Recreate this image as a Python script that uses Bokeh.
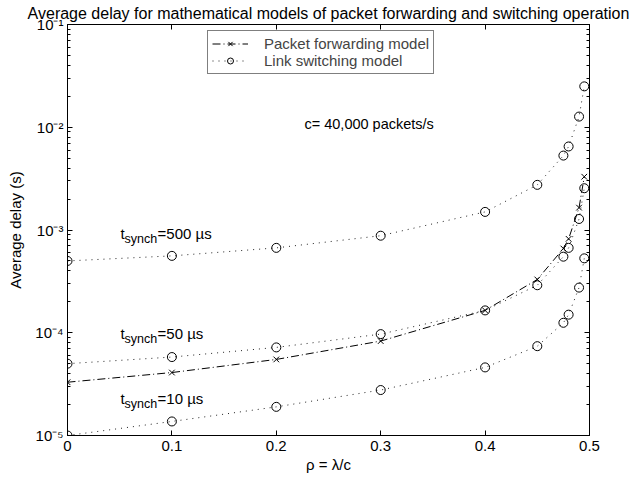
from bokeh.plotting import figure
from bokeh.models import (Label, LinearAxis, LogAxis, FixedTicker, CustomJSTickFormatter,
                          Range1d, Legend, LegendItem)
from bokeh.embed import file_html
from bokeh.resources import INLINE

# ---------------- data ----------------
rho = [0.0, 0.1, 0.2, 0.3, 0.4, 0.45, 0.475, 0.48, 0.49, 0.495]
delay_packet_forwarding = [3.3e-5, 4.1e-5, 5.5e-5, 8.3e-5, 1.65e-4, 3.3e-4, 6.6e-4, 8.2e-4, 1.65e-3, 3.3e-3]
delay_link_500us = [5.0e-4, 5.6e-4, 6.7e-4, 8.8e-4, 1.5e-3, 2.75e-3, 5.3e-3, 6.5e-3, 1.27e-2, 2.5e-2]
delay_link_50us = [5.0e-5, 5.8e-5, 7.2e-5, 9.7e-5, 1.65e-4, 2.9e-4, 5.5e-4, 6.7e-4, 1.28e-3, 2.55e-3]
delay_link_10us = [1.0e-5, 1.37e-5, 1.9e-5, 2.77e-5, 4.6e-5, 7.4e-5, 1.25e-4, 1.5e-4, 2.75e-4, 5.3e-4]

x_ticks = [0.0, 0.1, 0.2, 0.3, 0.4, 0.5]
x_tick_labels = ["0", "0.1", "0.2", "0.3", "0.4", "0.5"]
y_ticks = [1e-5, 1e-4, 1e-3, 1e-2, 1e-1]
y_tick_labels = ["10\u207b\u2075", "10\u207b\u2074", "10\u207b\u00b3", "10\u207b\u00b2", "10\u207b\u00b9"]
y_minor_mantissas = [2, 3, 4, 5, 6, 7, 8, 9]

title_text = "Average delay for mathematical models of packet forwarding and switching operation"
x_label_text = "\u03c1 = \u03bb/c"
y_label_text = "Average delay (s)"
legend_labels = ["Packet forwarding model", "Link switching model"]
annotation_c = "c= 40,000 packets/s"
synch_texts = ["=500 \u00b5s", "=50 \u00b5s", "=10 \u00b5s"]
synch_baselines = [7.8e-4, 8.24e-5, 1.92e-5]

FONT = "Liberation Sans"
FS = "15px"

p = figure(width=635, height=483,
           x_range=Range1d(0, 0.5), y_range=Range1d(1e-5, 1e-1),
           y_axis_type="log", output_backend="svg", toolbar_location=None,
           min_border_left=67, min_border_right=46, min_border_top=23, min_border_bottom=48)
p.grid.visible = False
p.outline_line_color = "black"
p.outline_line_width = 1
p.background_fill_color = "white"
p.border_fill_color = "white"

p.title.text = title_text
p.title.align = "center"
p.title.text_font = FONT
p.title.text_font_size = "16px"
p.title.text_font_style = "normal"
p.title.text_color = "black"
p.title.standoff = 5
p.title.offset = 0

yminor = [m * t for t in y_ticks[:-1] for m in y_minor_mantissas]

fmt_code = """
let best = 0; let d = 1e99;
for (let i = 0; i < tv.length; i++) {
  const dd = Math.abs(Math.log(tv[i]) - Math.log(Math.max(tick, 1e-300)));
  if (dd < d) { d = dd; best = i; }
}
return tl[best];
"""
xfmt_code = """
let best = 0; let d = 1e99;
for (let i = 0; i < tv.length; i++) {
  const dd = Math.abs(tv[i] - tick);
  if (dd < d) { d = dd; best = i; }
}
return tl[best];
"""


def style_axis(ax, ticker, fmt, fsize):
    ax.ticker = ticker
    ax.formatter = fmt
    ax.major_tick_in = 5
    ax.major_tick_out = 0
    ax.minor_tick_in = 3
    ax.minor_tick_out = 0
    ax.axis_line_color = "black"
    ax.major_tick_line_color = "black"
    ax.minor_tick_line_color = "black"
    ax.major_label_text_font = FONT
    ax.major_label_text_font_size = fsize
    ax.major_label_text_color = "black"
    ax.axis_label_text_font = FONT
    ax.axis_label_text_font_size = FS
    ax.axis_label_text_font_style = "normal"
    ax.axis_label_text_color = "black"


# bottom / top
xb = p.xaxis[0]
style_axis(xb, FixedTicker(ticks=x_ticks, minor_ticks=[]),
           CustomJSTickFormatter(args=dict(tv=x_ticks, tl=x_tick_labels), code=xfmt_code), FS)
xb.major_label_standoff = 5
xb.axis_label = x_label_text
xb.axis_label_standoff = 2

top = LinearAxis()
style_axis(top, FixedTicker(ticks=x_ticks, minor_ticks=[]), CustomJSTickFormatter(code="return '';"), "0px")
top.major_label_standoff = 0
p.add_layout(top, "above")

# left / right
yl = p.yaxis[0]
style_axis(yl, FixedTicker(ticks=y_ticks, minor_ticks=yminor),
           CustomJSTickFormatter(args=dict(tv=y_ticks, tl=y_tick_labels), code=fmt_code), FS)
yl.major_label_standoff = 4
yl.axis_label = y_label_text
yl.axis_label_standoff = 8

right = LogAxis()
style_axis(right, FixedTicker(ticks=y_ticks, minor_ticks=yminor), CustomJSTickFormatter(code="return '';"), "0px")
right.major_label_standoff = 0
p.add_layout(right, "right")

# ---------------- series ----------------
pf_line = p.line(rho, delay_packet_forwarding, line_color="black", line_width=1, line_dash="8 3 1 3")
pf_pts = p.scatter(rho, delay_packet_forwarding, marker="x", size=8, line_color="black", line_width=1)

ls_renderers = []
for d in [delay_link_500us, delay_link_50us, delay_link_10us]:
    l = p.line(rho, d, line_color="#222222", line_width=1, line_dash="1 5")
    s = p.scatter(rho, d, marker="circle", size=9, fill_color=None, line_color="black", line_width=1)
    ls_renderers.append((l, s))

legend = Legend(items=[LegendItem(label=legend_labels[0], renderers=[pf_line, pf_pts]),
                       LegendItem(label=legend_labels[1], renderers=list(ls_renderers[0]))],
                location=(140, 361), margin=0, padding=4, spacing=0,
                glyph_width=36, glyph_height=15, label_height=15, label_standoff=16,
                label_text_font=FONT, label_text_font_size=FS,
                border_line_color="black", border_line_width=1,
                background_fill_color="white", background_fill_alpha=1)
p.add_layout(legend)

# ---------------- in-plot annotations ----------------
p.add_layout(Label(x=0.227, y=1.02e-2, text=annotation_c, y_offset=2, text_align="left", text_baseline="middle",
                   text_font=FONT, text_font_size="14.5px", text_color="black"))

for txt, yb in zip(synch_texts, synch_baselines):
    p.add_layout(Label(x=0.0508, y=yb, text="t", y_offset=8, text_align="left", text_baseline="alphabetic",
                       text_font=FONT, text_font_size=FS, text_color="black"))
    p.add_layout(Label(x=0.0508, y=yb, text="synch", x_offset=4, y_offset=2, text_align="left",
                       text_baseline="alphabetic", text_font=FONT, text_font_size="12.5px", text_color="black"))
    p.add_layout(Label(x=0.0508, y=yb, text=txt, x_offset=37, y_offset=8, text_align="left",
                       text_baseline="alphabetic", text_font=FONT, text_font_size=FS, text_color="black"))

open("out.html", "w").write(file_html(p, INLINE))
